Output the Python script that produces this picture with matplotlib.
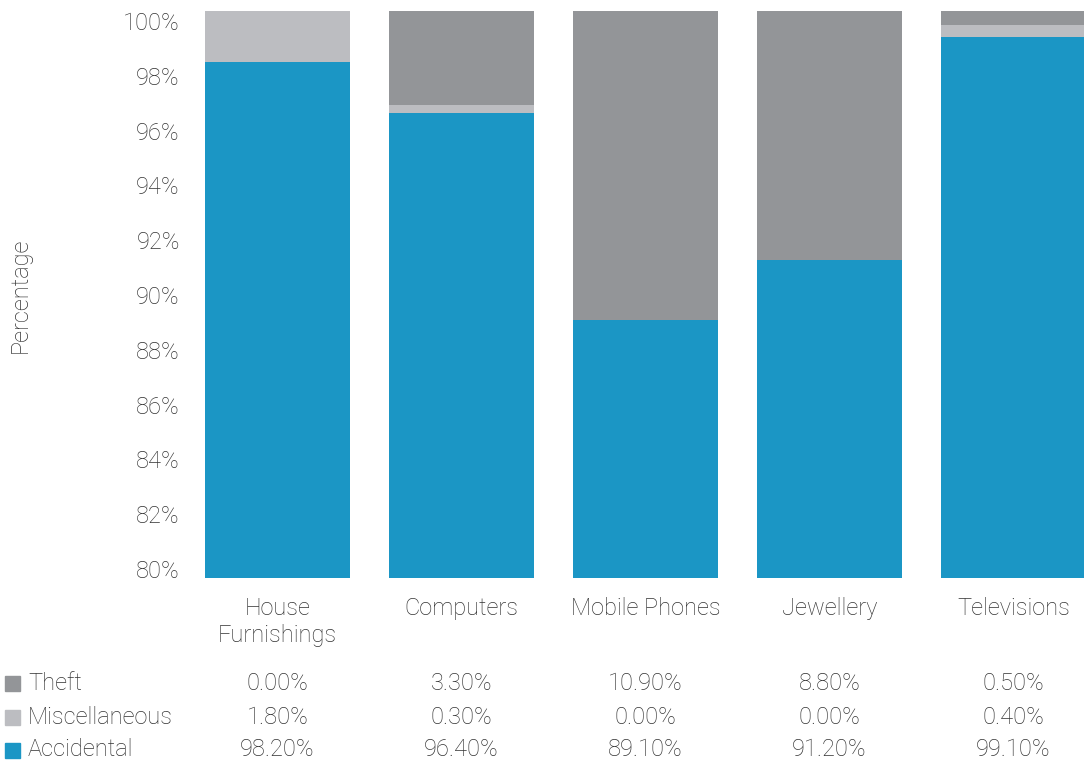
import matplotlib.pyplot as plt
from matplotlib.patches import Rectangle
from matplotlib.transforms import blended_transform_factory

categories = ['House\nFurnishings', 'Computers', 'Mobile Phones', 'Jewellery', 'Televisions']
accidental = [98.2, 96.4, 89.1, 91.2, 99.1]
miscellaneous = [1.8, 0.3, 0.0, 0.0, 0.4]
theft = [0.0, 3.3, 10.9, 8.8, 0.5]
y_ticks = [80, 82, 84, 86, 88, 90, 92, 94, 96, 98, 100]

BLUE = '#1b96c5'
LIGHT = '#bcbdc1'
DARK = '#939598'
TEXT = '#333333'
SIZE = 17
FONT = dict(family='Roboto', fontweight='light', color=TEXT, fontsize=SIZE)

plt.rcParams['font.family'] = 'Roboto'
plt.rcParams['font.weight'] = 'light'

fig = plt.figure(figsize=(10.84, 7.66), dpi=100)
W, H = 1084, 766
ax = fig.add_axes([185.5 / W, 188 / H, 920 / W, 567 / H])

x = list(range(len(categories)))
width = 145 / 184
misc_bottom = accidental
theft_bottom = [a + m for a, m in zip(accidental, miscellaneous)]

ax.bar(x, accidental, width=width, color=BLUE)
ax.bar(x, miscellaneous, width=width, bottom=misc_bottom, color=LIGHT)
ax.bar(x, theft, width=width, bottom=theft_bottom, color=DARK)

ax.set_xlim(-0.5, len(categories) - 0.5)
ax.set_ylim(80, 100)
ax.set_yticks([])
ax.set_xticks(x)
ax.set_xticklabels(categories)
ax.tick_params(axis='both', length=0, labelsize=SIZE, labelcolor=TEXT)
ax.tick_params(axis='x', pad=14)
for s in ax.spines.values():
    s.set_visible(False)

# percentage scale on its own axis, inset a little from the bar area
scale = fig.add_axes([185.5 / W, 197 / H, 1 / W, 548 / H])
scale.set_ylim(80, 100)
scale.set_yticks(y_ticks)
scale.set_yticklabels([f'{t}%' for t in y_ticks])
scale.set_xticks([])
scale.tick_params(axis='y', length=0, pad=4, labelsize=SIZE, labelcolor=TEXT)
scale.patch.set_visible(False)
for s in scale.spines.values():
    s.set_visible(False)

fig.text(20 / W, 1 - 295 / H, 'Percentage', rotation=90, ha='center', va='center', **FONT)

# data table under the chart
rows = [('Theft', theft, DARK), ('Miscellaneous', miscellaneous, LIGHT), ('Accidental', accidental, BLUE)]
row_y = [683, 717, 750]
trans = blended_transform_factory(ax.transData, fig.transFigure)
for (name, vals, col), yy in zip(rows, row_y):
    yf = 1 - yy / H
    fig.patches.append(Rectangle((5 / W, yf - 7.5 / H), 15 / W, 15 / H,
                                 transform=fig.transFigure, color=col, figure=fig))
    fig.text(28 / W, yf, name, va='center', ha='left', **FONT)
    for i, v in enumerate(vals):
        ax.text(i, yf, f'{v:.2f}%', transform=trans, ha='center', va='center',
                clip_on=False, **FONT)

fig.savefig('out.png', dpi=100)
